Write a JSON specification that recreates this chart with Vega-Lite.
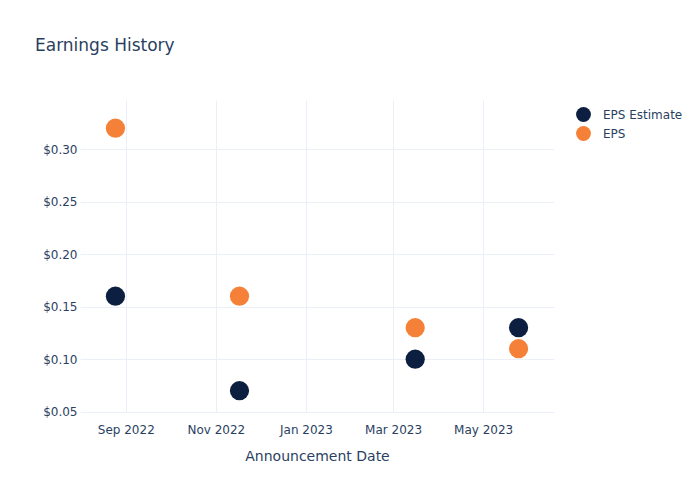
{
  "$schema": "https://vega.github.io/schema/vega-lite/v6.json",
  "width": 474,
  "height": 312,
  "autosize": {"type": "none"},
  "padding": {"left": 80, "top": 100, "right": 146, "bottom": 88},
  "background": "white",
  "title": {
    "text": "Earnings History",
    "anchor": "start",
    "frame": "group",
    "dx": -45,
    "offset": 37,
    "font": "DejaVu Sans",
    "fontSize": 17,
    "fontWeight": "normal",
    "color": "#2a3f5f",
    "baseline": "middle"
  },
  "config": {
    "view": {"stroke": null},
    "font": "DejaVu Sans"
  },
  "data": {
    "values": [
      {"date": "2022-08-25", "series": "EPS Estimate", "value": 0.16},
      {"date": "2022-11-17", "series": "EPS Estimate", "value": 0.07},
      {"date": "2023-03-16", "series": "EPS Estimate", "value": 0.10},
      {"date": "2023-05-25", "series": "EPS Estimate", "value": 0.13},
      {"date": "2022-08-25", "series": "EPS", "value": 0.32},
      {"date": "2022-11-17", "series": "EPS", "value": 0.16},
      {"date": "2023-03-16", "series": "EPS", "value": 0.13},
      {"date": "2023-05-25", "series": "EPS", "value": 0.11}
    ]
  },
  "mark": {"type": "circle", "size": 370, "opacity": 1},
  "encoding": {
    "x": {
      "field": "date",
      "type": "temporal",
      "title": "Announcement Date",
      "scale": {"type": "utc", "domain": ["2022-08-01", "2023-06-18"]},
      "axis": {
        "values": ["2022-09-01", "2022-11-01", "2023-01-01", "2023-03-01", "2023-05-01"],
        "labelExpr": "utcFormat(datum.value, '%b %Y')",
        "domain": false,
        "ticks": false,
        "grid": true,
        "gridColor": "#ebf0f8",
        "gridWidth": 1,
        "labelFont": "DejaVu Sans",
        "labelFontSize": 12,
        "labelColor": "#2a3f5f",
        "labelPadding": 12,
        "titleFont": "DejaVu Sans",
        "titleFontSize": 14,
        "titleFontWeight": "normal",
        "titleColor": "#2a3f5f",
        "titlePadding": 14
      }
    },
    "y": {
      "field": "value",
      "type": "quantitative",
      "title": null,
      "scale": {"domain": [0.0497, 0.3469], "nice": false, "zero": false},
      "axis": {
        "values": [0.05, 0.10, 0.15, 0.20, 0.25, 0.30],
        "format": "$.2f",
        "domain": false,
        "ticks": false,
        "grid": true,
        "gridColor": "#ebf0f8",
        "gridWidth": 1,
        "labelFont": "DejaVu Sans",
        "labelFontSize": 12,
        "labelColor": "#2a3f5f",
        "labelPadding": 3
      }
    },
    "color": {
      "field": "series",
      "type": "nominal",
      "scale": {"domain": ["EPS Estimate", "EPS"], "range": ["#0d1f40", "#f58138"]},
      "legend": {
        "title": null,
        "orient": "none",
        "legendX": 495,
        "legendY": 6,
        "symbolType": "circle",
        "symbolSize": 220,
        "symbolOpacity": 1,
        "labelFont": "DejaVu Sans",
        "labelFontSize": 12,
        "labelColor": "#2a3f5f",
        "rowPadding": 3,
        "labelOffset": 11
      }
    },
    "order": {"field": "series", "sort": "descending"}
  }
}
